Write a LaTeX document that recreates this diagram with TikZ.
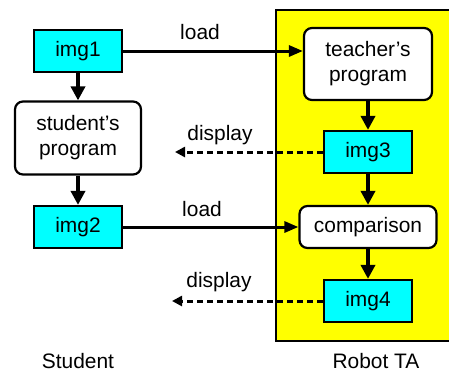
\documentclass[tikz,border=0pt]{standalone}
\usepackage{fontspec}
\setmainfont{Liberation Sans}
\usetikzlibrary{arrows.meta}

\definecolor{imgcyan}{RGB}{0,255,255}
\definecolor{tayellow}{RGB}{255,255,0}

\tikzset{
  every node/.style={font=\fontsize{21}{25}\selectfont},
  imgbox/.style={draw, line width=2.2bp, fill=imgcyan, minimum width=88bp, minimum height=42bp, inner sep=0pt},
  progbox/.style={draw, line width=2.2bp, fill=white, rounded corners=8bp, align=center, inner sep=0pt},
  flowline/.style={line width=4.5bp, -{Triangle[length=14bp,width=14bp]}},
  loadline/.style={line width=3bp, -{Triangle[length=14bp,width=11bp]}},
  displayline/.style={line width=3bp, dash pattern=on 5.5bp off 4.5bp, -{Triangle[length=10bp,width=10bp]}},
}

\begin{document}
\begin{tikzpicture}[x=1bp,y=-1bp]
  \useasboundingbox (0,0) rectangle (449,372);

  % robot TA side
  \draw[fill=tayellow, line width=1.4bp] (276,10) rectangle (455,341);

  % boxes
  \node[imgbox] (img1) at (78,51) {img1};
  \node[progbox, minimum width=126bp, minimum height=73bp] (student) at (78,138) {student's\\program};
  \node[imgbox] (img2) at (78,227) {img2};
  \node[progbox, minimum width=128bp, minimum height=72bp] (teacher) at (368,64) {teacher's\\program};
  \node[imgbox] (img3) at (368,152) {img3};
  \node[progbox, minimum width=137bp, minimum height=42bp] (compare) at (368,227) {comparison};
  \node[imgbox] (img4) at (368,301) {img4};

  % vertical flow
  \draw[flowline] (img1) -- (student);
  \draw[flowline] (student) -- (img2);
  \draw[flowline] (teacher) -- (img3);
  \draw[flowline] (img3) -- (compare);
  \draw[flowline] (compare) -- (img4);

  % load
  \draw[loadline] (img1.east) -- (img1.east -| teacher.west);
  \draw[loadline] (img2.east) -- (img2.east -| compare.west);
  \node[anchor=base] (load1) at (200,39) {load};
  \node[anchor=base] (load2) at (202,216) {load};

  % display
  \coordinate (out1) at (175,152);
  \coordinate (out2) at (172,301);
  \draw[displayline] (img3.west) -- (out1);
  \draw[displayline] (img4.west) -- (out2);
  \node[anchor=base] (disp1) at (220,140) {display};
  \node[anchor=base] (disp2) at (219,287) {display};

  % sides
  \node[anchor=base] (studlab) at (78,368) {Student};
  \node[anchor=base] (robotlab) at (376,368) {Robot TA};
\end{tikzpicture}
\end{document}
